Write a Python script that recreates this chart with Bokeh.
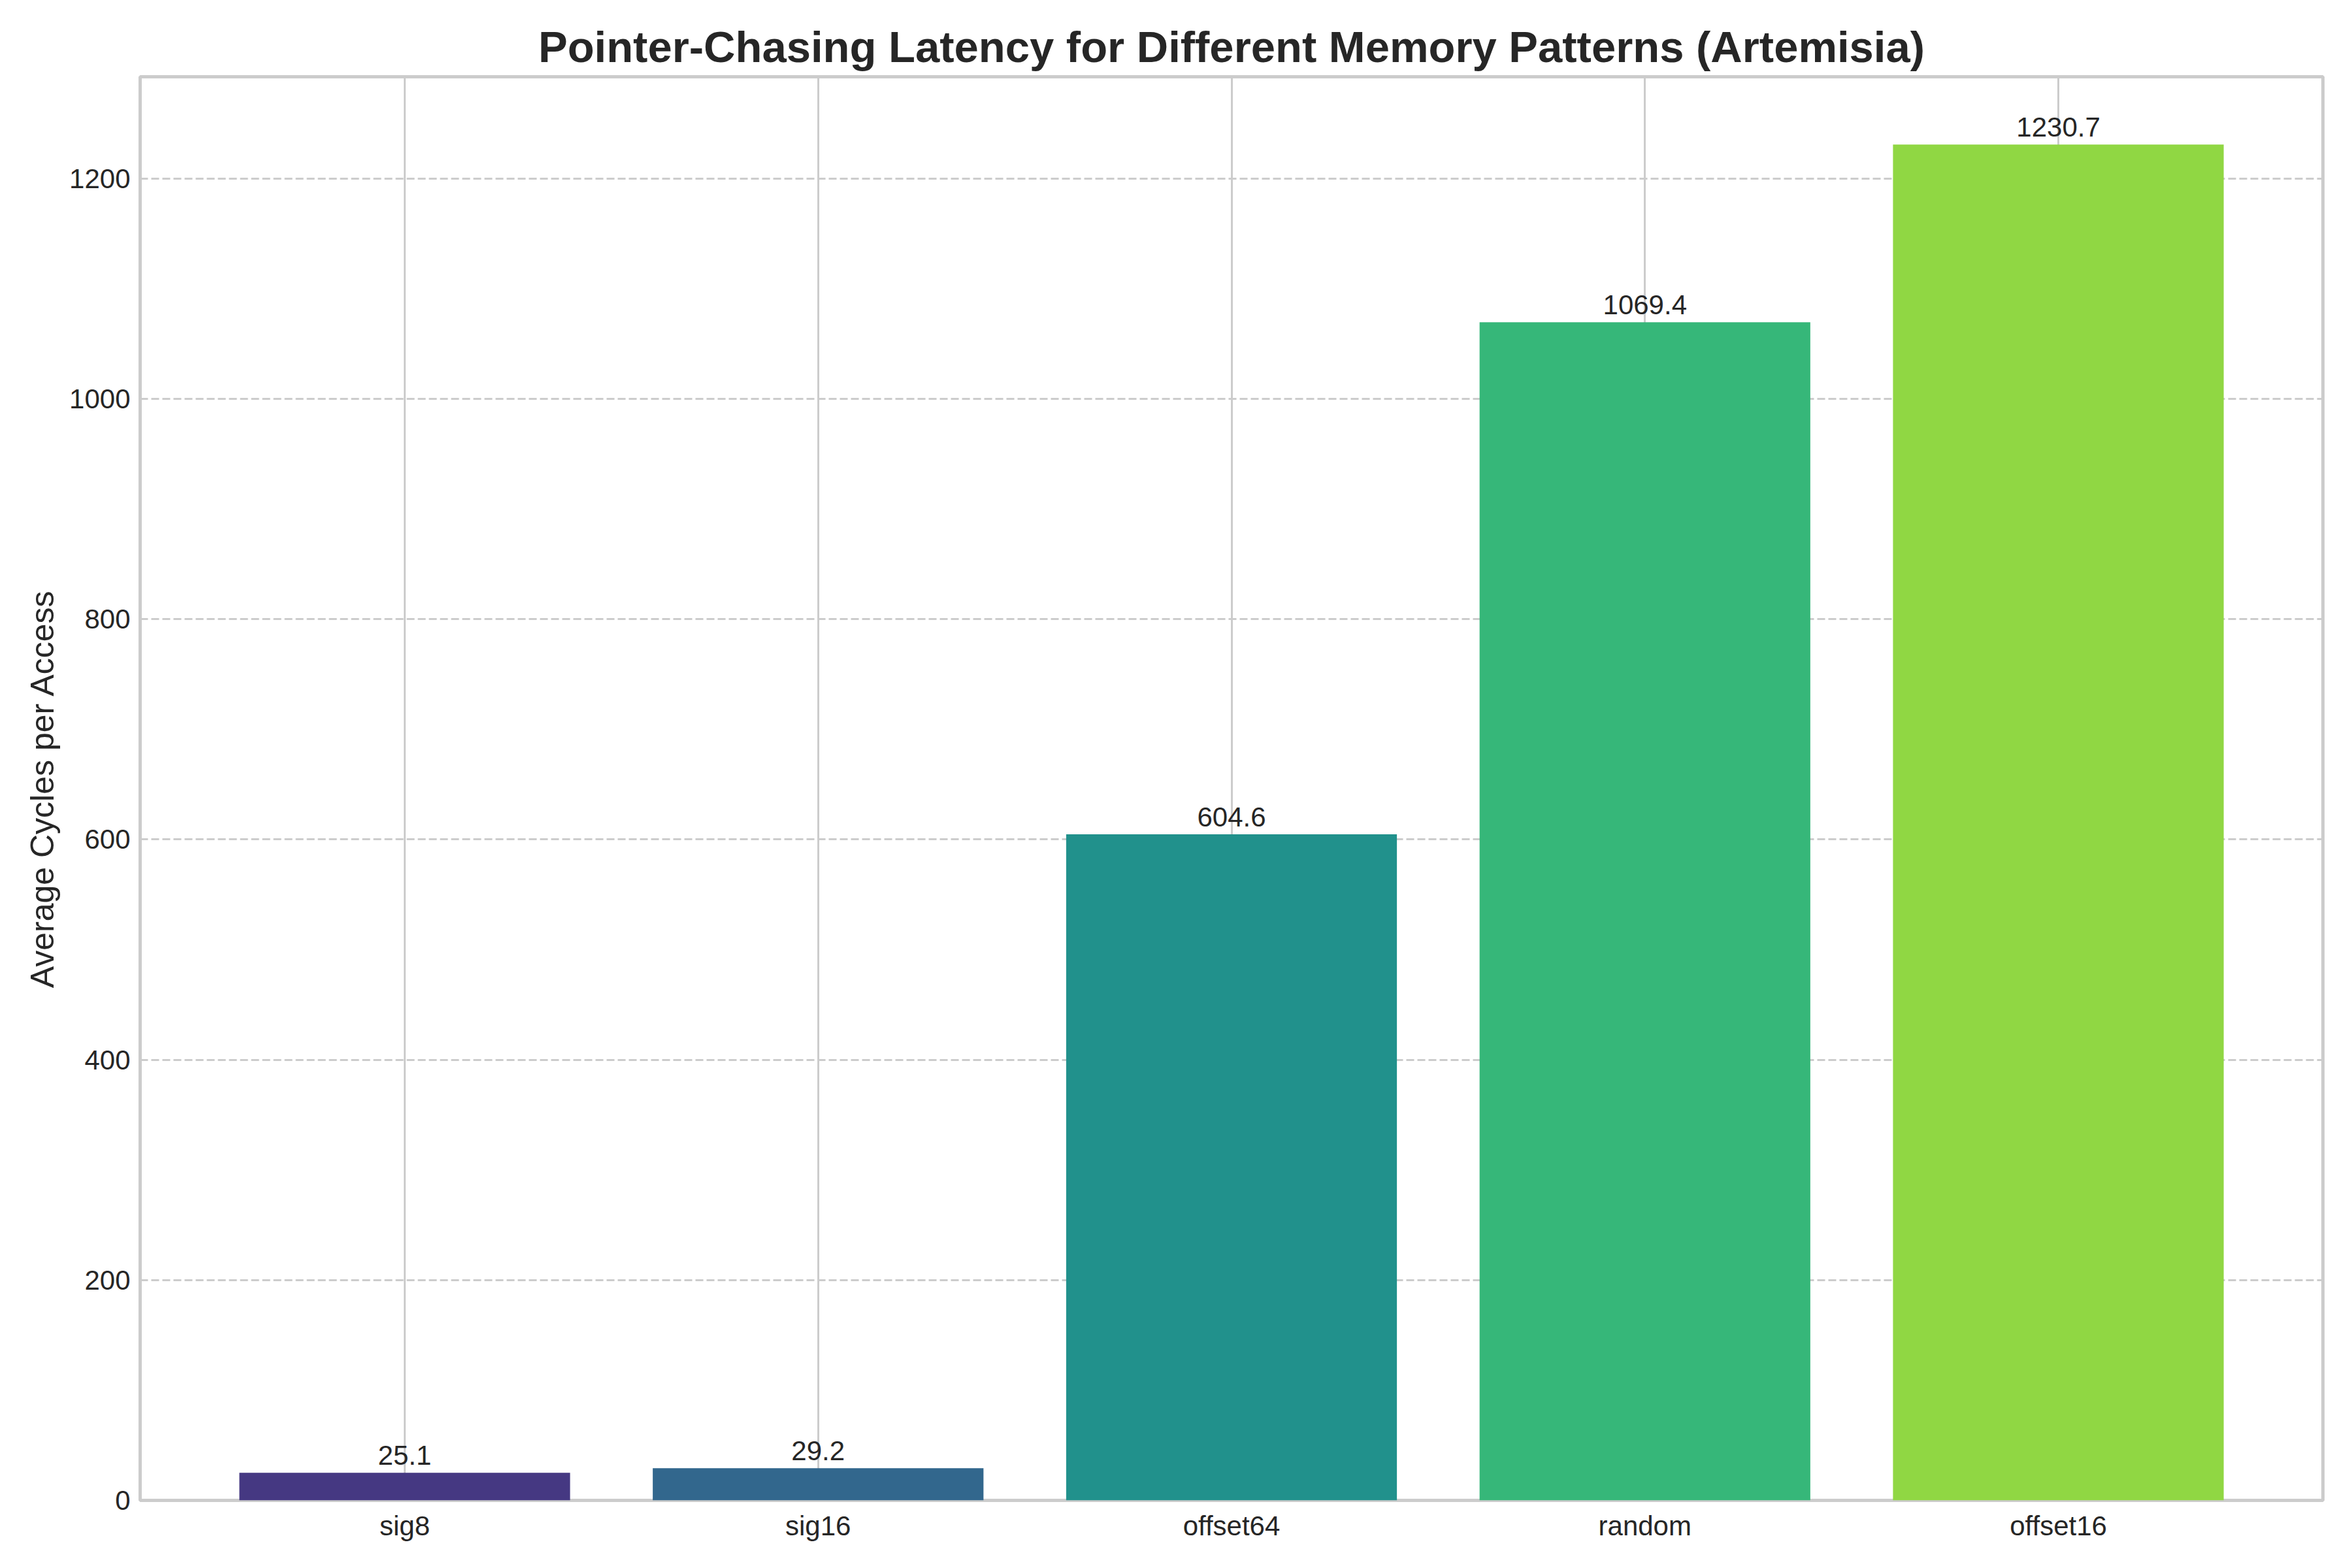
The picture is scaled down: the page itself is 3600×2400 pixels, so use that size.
from bokeh.plotting import figure
from bokeh.models import ColumnDataSource, Range1d, FixedTicker
from bokeh.embed import file_html
from bokeh.resources import INLINE

categories = ["sig8", "sig16", "offset64", "random", "offset16"]
values = [25.1, 29.2, 604.6, 1069.4, 1230.7]
colors = ["#453882", "#32678d", "#21918c", "#36b779", "#90d743"]
y_ticks = [0, 200, 400, 600, 800, 1000, 1200]

FONT = "Liberation Sans"
TXT = "#262626"
GRID = "#cccccc"

xs = list(range(len(categories)))
labels = [f"{v:.1f}" for v in values]
src = ColumnDataSource(dict(x=xs, top=values, color=colors, label=labels))

p = figure(width=3584, height=2384, output_backend="svg", toolbar_location=None,
           x_range=Range1d(-0.64, len(categories) - 1 + 0.64),
           y_range=Range1d(0, max(values) * 1.05),
           min_border_left=214, min_border_right=29,
           min_border_top=117, min_border_bottom=88)

p.vbar(x="x", top="top", width=0.8, bottom=0, fill_color="color", line_color=None, source=src)
p.text(x="x", y="top", text="label", source=src, text_align="center", text_baseline="bottom",
       y_offset=-12, text_font_size="42px", text_color=TXT, text_font={"value": FONT})

p.title.text = "Pointer-Chasing Latency for Different Memory Patterns (Artemisia)"
p.title.align = "center"
p.title.text_font = FONT
p.title.text_font_size = "67px"
p.title.text_font_style = "bold"
p.title.text_color = TXT
p.title.standoff = 18

p.outline_line_color = GRID
p.outline_line_width = 5

p.xaxis.ticker = FixedTicker(ticks=xs)
p.xaxis.major_label_overrides = {i: c for i, c in enumerate(categories)}
p.yaxis.ticker = FixedTicker(ticks=y_ticks)

for ax in (p.xaxis[0], p.yaxis[0]):
    ax.axis_line_color = None
    ax.major_tick_line_color = None
    ax.minor_tick_line_color = None
    ax.major_tick_out = 0
    ax.major_tick_in = 0
    ax.major_label_text_font = FONT
    ax.major_label_text_font_size = "42px"
    ax.major_label_text_color = TXT
    ax.axis_label_text_font = FONT
    ax.axis_label_text_color = TXT

p.xaxis.major_label_standoff = 15
p.yaxis.major_label_standoff = 15
p.yaxis.axis_label = "Average Cycles per Access"
p.yaxis.axis_label_text_font_size = "50px"
p.yaxis.axis_label_text_font_style = "normal"
p.yaxis.axis_label_standoff = 10

p.xgrid.ticker = FixedTicker(ticks=xs)
p.xgrid.grid_line_color = GRID
p.xgrid.grid_line_width = 3
p.ygrid.ticker = FixedTicker(ticks=y_ticks)
p.ygrid.grid_line_color = GRID
p.ygrid.grid_line_width = 3
p.ygrid.grid_line_dash = "12 5"

p.background_fill_color = "white"
p.border_fill_color = "white"

open("out.html", "w").write(file_html(p, INLINE))
